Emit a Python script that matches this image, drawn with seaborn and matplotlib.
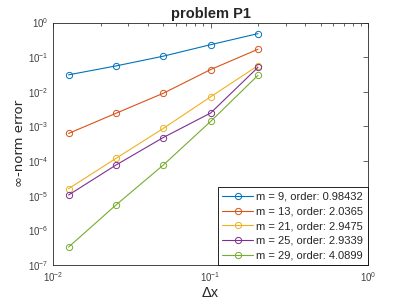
import numpy as np
import pandas as pd
import matplotlib
matplotlib.use("Agg")
import matplotlib.pyplot as plt
import seaborn as sns

dx = [0.0125, 0.025, 0.05, 0.1, 0.2]
labels = ["m = 9, order: 0.98432", "m = 13, order: 2.0365", "m = 21, order: 2.9475",
          "m = 25, order: 2.9339", "m = 29, order: 4.0899"]
err_m9 = [0.031, 0.056, 0.107, 0.23, 0.48]
err_m13 = [6.3e-4, 2.4e-3, 9.1e-3, 0.044, 0.17]
err_m21 = [1.6e-5, 1.2e-4, 8.8e-4, 7.2e-3, 0.057]
err_m25 = [1.05e-5, 7.7e-5, 4.8e-4, 2.45e-3, 0.051]
err_m29 = [3.3e-7, 5.4e-6, 7.7e-5, 1.4e-3, 0.030]
colors = ["#0072BD", "#D95319", "#EDB120", "#7E2F8E", "#77AC30"]
yticks = [1e-7, 1e-6, 1e-5, 1e-4, 1e-3, 1e-2, 1e-1, 1e0]
xticks = [1e-2, 1e-1, 1e0]

series = [err_m9, err_m13, err_m21, err_m25, err_m29]
df = pd.concat([pd.DataFrame({"dx": dx, "err": s, "series": lab})
                for s, lab in zip(series, labels)], ignore_index=True)

sns.set_style("white")
plt.rcParams['font.family'] = ['Liberation Sans', 'DejaVu Sans']
plt.rcParams['mathtext.fontset'] = 'custom'
plt.rcParams['mathtext.rm'] = 'Liberation Sans'

fig = plt.figure(figsize=(4.07, 3.05), dpi=100)
ax = fig.add_axes([0.131, 0.131, 0.773, 0.795])
sns.lineplot(data=df, x="dx", y="err", hue="series", palette=colors, marker="o",
             markerfacecolor="none", markeredgewidth=0.7, markersize=4.5, linewidth=0.8,
             ax=ax, legend=True)
for line, c in zip(ax.lines, colors):
    line.set_markeredgecolor(c)
ax.set_xscale("log")
ax.set_yscale("log")
ax.set_xlim(1e-2, 1)
ax.set_ylim(1e-7, 1)
ax.set_yticks(yticks)
ax.set_xticks(xticks)
ax.set_title("problem P1", fontsize=10.5, fontweight="bold", pad=3)
ax.set_xlabel("Δx", fontsize=10.5, labelpad=2)
ax.set_ylabel("∞-norm error", fontsize=9.5, labelpad=1, family=['DejaVu Sans'])
ax.tick_params(which="both", direction="in", top=True, right=True, labelsize=7, colors="#262626",
               labelcolor="#404040")
ax.tick_params(which="major", length=3.5, width=0.5)
ax.tick_params(which="minor", length=2, width=0.5)
ax.yaxis.set_minor_locator(matplotlib.ticker.NullLocator())
ax.xaxis.set_minor_locator(matplotlib.ticker.FixedLocator(
    [k * 10.0 ** e for e in (-2, -1) for k in range(2, 10)]))
ax.xaxis.set_minor_formatter(matplotlib.ticker.NullFormatter())
for sp in ax.spines.values():
    sp.set_linewidth(0.6)
    sp.set_color("#262626")
handles, labs = ax.get_legend_handles_labels()
for h, c in zip(handles, colors):
    h.set_markeredgecolor(c)
    h.set_markerfacecolor("none")
leg = ax.legend(handles, labs, loc="lower right", borderaxespad=0, fancybox=False,
                edgecolor="black", framealpha=1, fontsize=8, handlelength=2.8,
                handletextpad=0.3, labelspacing=0.42, borderpad=0.4)
leg.get_frame().set_linewidth(0.6)
fig.savefig("out.png", dpi=100)
